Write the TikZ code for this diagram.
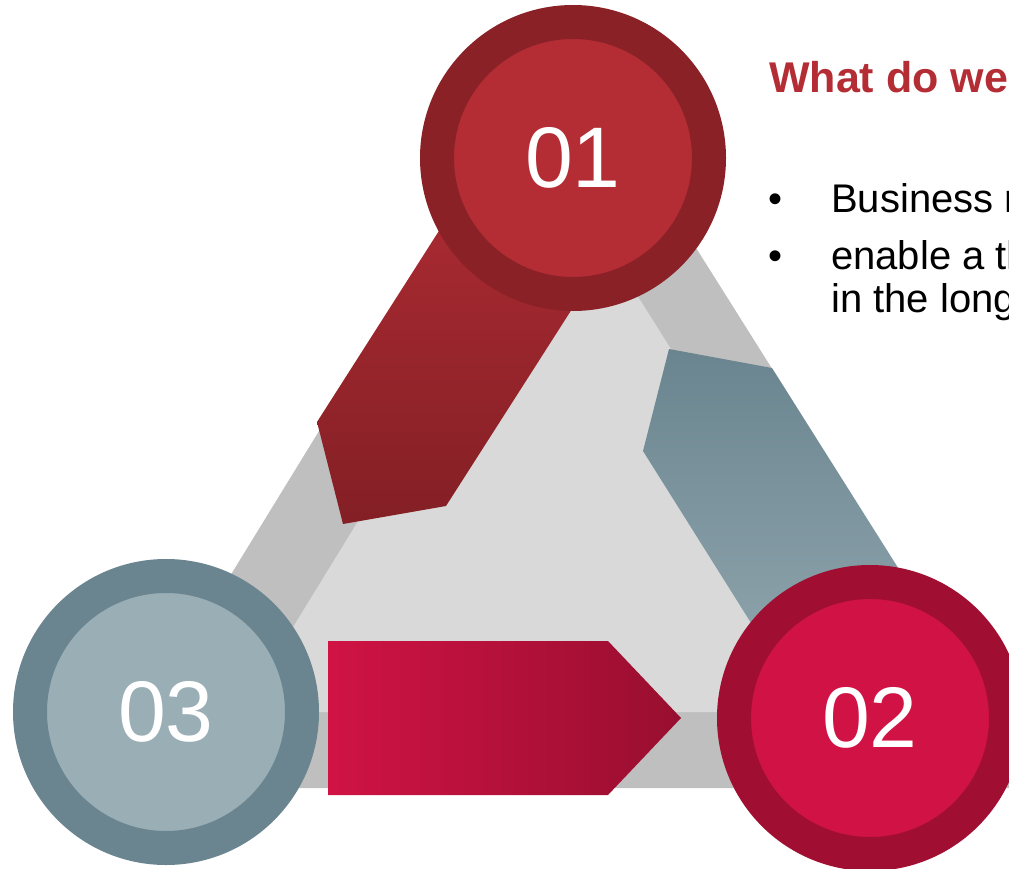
\documentclass[tikz,border=0pt]{standalone}
\usepackage{fontspec}
\setmainfont{Liberation Sans}
\usepackage{xcolor}
\usepackage{tikz}

\definecolor{rimred}{HTML}{8A2127}
\definecolor{corered}{HTML}{B42D35}
\definecolor{rimcrimson}{HTML}{A00F32}
\definecolor{corecrimson}{HTML}{D01344}
\definecolor{rimslate}{HTML}{6A8590}
\definecolor{coreslate}{HTML}{9AAEB5}
\definecolor{bandgray}{HTML}{BFBFBF}
\definecolor{innergray}{HTML}{D9D9D9}

\begin{document}
\begin{tikzpicture}[x=1pt,y=-1pt,
  ring/.style={circle,inner sep=0pt,outer sep=0pt,minimum size=272pt,line width=34pt,text=white,font=\fontsize{86}{90}\selectfont},
  bodytext/.style={anchor=base west,inner sep=0pt,font=\fontsize{40}{44}\selectfont}]
\useasboundingbox (0,0) rectangle (1009,869);

% triangle band
\fill[bandgray] (562,35) -- (1036,788) -- (100,788) -- cycle;
\fill[innergray] (566,182) -- (899,712) -- (241,712) -- cycle;

% arrows
\shade[top color=corered,bottom color=rimred!95!black] (511,118) -- (317,422) -- (343,524) -- (446,506) -- (643,198) -- cycle;
\shade[top color=rimslate,bottom color=coreslate!90!rimslate] (960,666) -- (772,368) -- (669,349) -- (643,451) -- (812,720) -- cycle;
\shade[left color=corecrimson,right color=rimcrimson!95!black] (328,641) -- (608,641) -- (681,718) -- (608,795) -- (328,795) -- cycle;

% circles
\node [ring,draw=rimred,fill=corered] (one) at (573,158) {01};
\node [ring,draw=rimcrimson,fill=corecrimson] (two) at (870,718) {02};
\node [ring,draw=rimslate,fill=coreslate] (three) at (166,712) {03};

% text
\node [anchor=base west,inner sep=0pt,text=corered,font=\fontsize{43}{47}\selectfont\bfseries] (title) at (769,92.7) {What do we};
\node [bodytext] (dot1) at (768,212.7) {•};
\node [bodytext] (line1) at (831,212.7) {Business r};
\node [bodytext] (dot2) at (768,269) {•};
\node [bodytext] (line2) at (831,269) {enable a th};
\node [bodytext] (line3) at (831,312) {in the long};

\end{tikzpicture}
\end{document}
